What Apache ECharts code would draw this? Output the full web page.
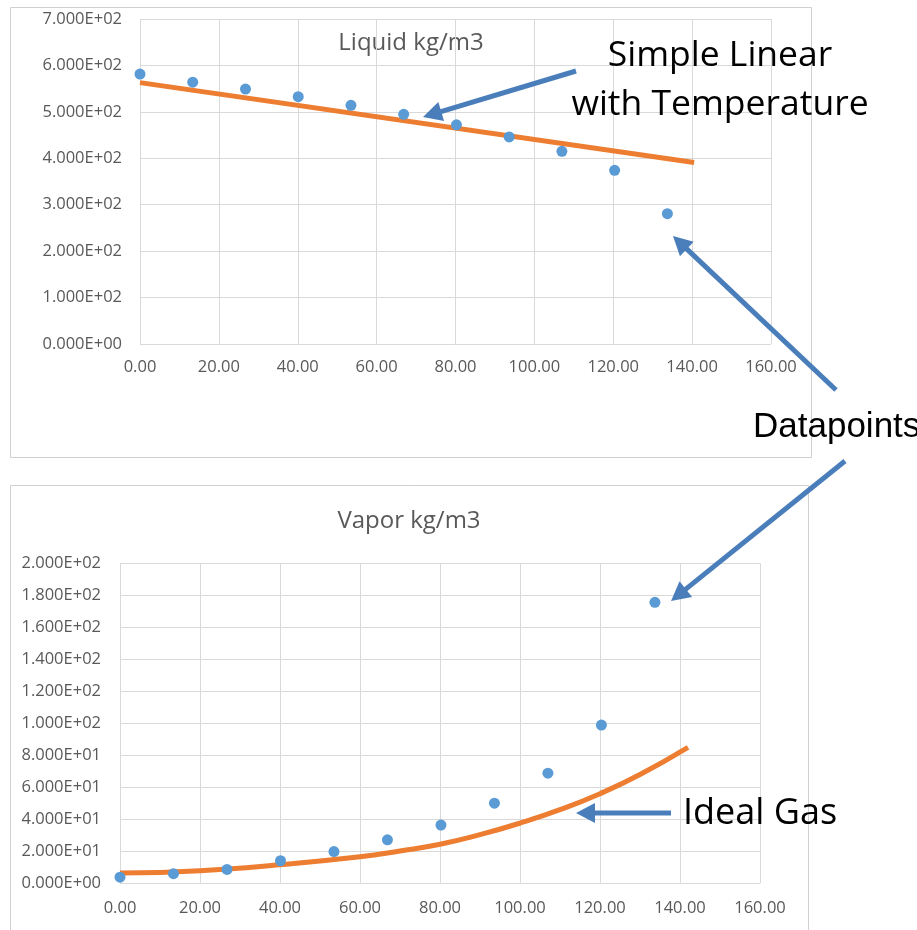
<!DOCTYPE html>
<html>
<head>
<meta charset="utf-8">
<script src="https://cdn.jsdelivr.net/npm/echarts@6/dist/echarts.min.js"></script>
<style>
html,body{margin:0;padding:0;background:#fff;}
#c{width:917px;height:930px;}
</style>
</head>
<body>
<div id="c"></div>
<script>
// ---- data ----
var temps = [0, 13.37, 26.75, 40.12, 53.49, 66.86, 80.24, 93.61, 106.98, 120.35, 133.73];
var liquidDensity = [581.5, 564, 549, 532.7, 514, 494.6, 472, 446, 415, 374, 280.6];
var vaporDensity = [3.8, 6.0, 8.7, 14.1, 19.8, 27.2, 36.4, 50.1, 68.8, 98.9, 175.6];
var linearFitX = [0, 140.5];
var linearFitY = [563, 391];
var idealGasX = [0, 20, 40, 60, 70, 80, 90, 100, 110, 120, 130, 142];
var idealGasY = [6.4, 7.9, 11.6, 16.6, 20.2, 24.4, 30.4, 37.6, 46.0, 56.0, 68.0, 85];
var titles = ['Liquid kg/m3', 'Vapor kg/m3'];

function zip(a, b) { return a.map(function (v, i) { return [v, b[i]]; }); }
function sci(v) {
  var s = Number(v).toExponential(3).split('e');
  var e = parseInt(s[1], 10);
  var sign = e < 0 ? '-' : '+';
  var ae = Math.abs(e);
  return s[0] + 'E' + sign + (ae < 10 ? '0' + ae : ae);
}

var FONT = '"Open Sans", "Noto Sans", sans-serif';
var labelColor = '#595959';
var gridColor = '#d9d9d9';
var blue = '#4a7ebb';

function arrow(x1, y1, x2, y2) {
  var dx = x2 - x1, dy = y2 - y1, L = Math.sqrt(dx * dx + dy * dy);
  var ux = dx / L, uy = dy / L, hl = 19, hw = 10;
  var bx = x2 - ux * hl, by = y2 - uy * hl;
  return [
    { type: 'line', shape: { x1: x1, y1: y1, x2: bx + ux * 2, y2: by + uy * 2 },
      style: { stroke: blue, lineWidth: 5 }, z: 100 },
    { type: 'polygon', shape: { points: [[x2, y2], [bx - uy * hw, by + ux * hw], [bx + uy * hw, by - ux * hw]] },
      style: { fill: blue }, z: 100 }
  ];
}

function xAxis(gi, margin) {
  return {
    type: 'value', gridIndex: gi, min: 0, max: 160, interval: 20,
    axisLine: { show: false }, axisTick: { show: false },
    splitLine: { show: true, lineStyle: { color: gridColor, width: 1 } },
    axisLabel: { color: labelColor, fontFamily: FONT, fontSize: 16.5, margin: margin,
      formatter: function (v) { return v.toFixed(2); } }
  };
}
function yAxis(gi, max, interval, margin) {
  return {
    type: 'value', gridIndex: gi, min: 0, max: max, interval: interval,
    axisLine: { show: false }, axisTick: { show: false },
    splitLine: { show: true, lineStyle: { color: gridColor, width: 1 } },
    axisLabel: { color: labelColor, fontFamily: FONT, fontSize: 16.5, margin: margin,
      formatter: function (v) { return sci(v); } }
  };
}

var graphics = [
  { type: 'rect', shape: { x: 10.5, y: 7.5, width: 801, height: 450 },
    style: { fill: null, stroke: '#d0d0d0', lineWidth: 1 }, z: -10 },
  { type: 'rect', shape: { x: 10.5, y: 485.5, width: 798, height: 470 },
    style: { fill: null, stroke: '#d0d0d0', lineWidth: 1 }, z: -10 },
  { type: 'text', x: 411, y: 43, style: { text: titles[0], fill: labelColor, font: '24px ' + FONT, align: 'center', verticalAlign: 'middle' } },
  { type: 'text', x: 409, y: 521, style: { text: titles[1], fill: labelColor, font: '24px ' + FONT, align: 'center', verticalAlign: 'middle' } },
  { type: 'text', x: 720, y: 56, style: { text: 'Simple Linear', fill: '#000', font: '35.5px ' + FONT, align: 'center', verticalAlign: 'middle' }, z: 100 },
  { type: 'text', x: 720, y: 105, style: { text: 'with Temperature', fill: '#000', font: '35.5px ' + FONT, align: 'center', verticalAlign: 'middle' }, z: 100 },
  { type: 'text', x: 753, y: 427, style: { text: 'Datapoints', fill: '#000', font: '35px "Liberation Sans", Arial, sans-serif', align: 'left', verticalAlign: 'middle' }, z: 100 },
  { type: 'text', x: 683, y: 814, style: { text: 'Ideal Gas', fill: '#000', font: '36px ' + FONT, align: 'left', verticalAlign: 'middle' }, z: 100 }
];
graphics = graphics
  .concat(arrow(576, 71, 423, 117))
  .concat(arrow(836, 390, 673, 236))
  .concat(arrow(845, 461, 671, 601))
  .concat(arrow(671, 813, 576, 813));

var option = {
  animation: false,
  backgroundColor: '#fff',
  grid: [
    { left: 140, top: 19, width: 631, height: 325 },
    { left: 120, top: 563.3, width: 640, height: 320 }
  ],
  xAxis: [xAxis(0, 15), xAxis(1, 16)],
  yAxis: [yAxis(0, 700, 100, 18), yAxis(1, 200, 20, 19)],
  series: [
    { type: 'line', xAxisIndex: 0, yAxisIndex: 0, data: zip(linearFitX, linearFitY),
      showSymbol: false, symbol: 'none', lineStyle: { color: '#ed7d31', width: 5 }, z: 2 },
    { type: 'scatter', xAxisIndex: 0, yAxisIndex: 0, data: zip(temps, liquidDensity),
      symbolSize: 11, itemStyle: { color: '#5b9bd5', opacity: 1 }, z: 3 },
    { type: 'line', xAxisIndex: 1, yAxisIndex: 1, data: zip(idealGasX, idealGasY), smooth: 0.5,
      showSymbol: false, symbol: 'none', lineStyle: { color: '#ed7d31', width: 5 }, z: 2 },
    { type: 'scatter', xAxisIndex: 1, yAxisIndex: 1, data: zip(temps, vaporDensity),
      symbolSize: 11, itemStyle: { color: '#5b9bd5', opacity: 1 }, z: 3 }
  ],
  graphic: graphics
};
var chart = echarts.init(document.getElementById('c'), null, { renderer: 'canvas' });
chart.setOption(option);
</script>
</body>
</html>
